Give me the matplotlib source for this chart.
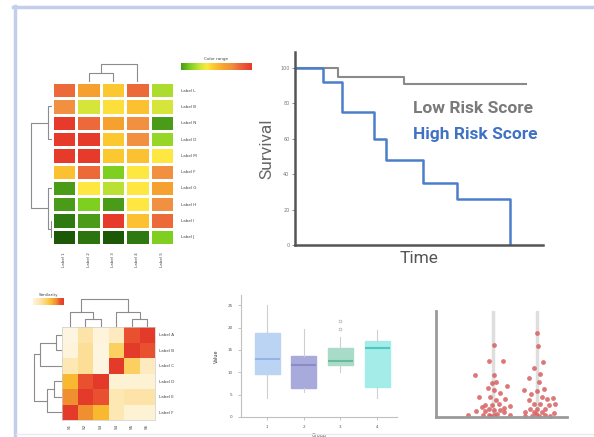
import numpy as np
import matplotlib.pyplot as plt
from matplotlib.colors import LinearSegmentedColormap
from matplotlib.lines import Line2D

# ---- data ----
heat_rows = ["Label L", "Label B", "Label N", "Label D", "Label M",
             "Label F", "Label G", "Label H", "Label I", "Label J"]
heat_cols = ["Label 1", "Label 2", "Label 3", "Label 4", "Label 5"]
heat_vals = [
    [0.86, 0.70, 0.58, 0.86, 0.38],
    [0.78, 0.44, 0.52, 0.60, 0.44],
    [1.00, 0.86, 0.70, 0.78, 0.22],
    [1.00, 1.00, 0.58, 0.78, 0.35],
    [1.00, 1.00, 0.58, 0.60, 0.50],
    [0.60, 0.86, 0.32, 0.50, 0.78],
    [0.22, 0.50, 0.40, 0.50, 0.70],
    [0.22, 0.32, 0.22, 0.50, 0.78],
    [0.12, 0.22, 1.00, 0.60, 0.86],
    [0.00, 0.10, 0.00, 0.12, 0.32],
]
heat_col_merges = [(1, 2, 0.47), (5, 3, 1.0)]
heat_row_merges = [(8, 9, 0.05), (1, 3, 0.17), (6, 10, 0.17), (11, 12, 1.0)]

low_time = [0, 17.4, 44, 93]
low_surv = [100, 95, 91, 91]
high_time = [0, 11.2, 18.8, 31.9, 36.7, 51.5, 65.3, 86.7]
high_surv = [100, 92, 75, 60, 48, 35, 26, 0]
km_ticks = [0, 20, 40, 60, 80, 100]

corr_rows = ["Label A", "Label B", "Label C", "Label D", "Label E", "Label F"]
corr_cols = ["S1", "S2", "S3", "S4", "S5", "S6"]
corr_vals = [
    [0.00, 0.25, 0.02, 0.15, 0.88, 1.00],
    [0.02, 0.30, 0.00, 0.45, 1.00, 0.88],
    [0.20, 0.30, 0.00, 1.00, 0.45, 0.15],
    [0.60, 0.88, 1.00, 0.05, 0.05, 0.05],
    [0.75, 1.00, 0.88, 0.20, 0.25, 0.25],
    [1.00, 0.75, 0.60, 0.20, 0.05, 0.05],
]
corr_col_merges = [(1, 2, 0.3), (0, 6, 0.53), (4, 5, 0.3), (3, 8, 0.53), (7, 9, 1.0)]
corr_row_merges = [(0, 1, 0.2), (6, 2, 0.8), (3, 4, 0.3), (8, 5, 0.55), (7, 9, 1.0)]

box_groups = ["1", "2", "3", "4"]
box_med = [13.0, 11.6, 12.6, 15.5]
box_q1 = [9.7, 6.6, 11.6, 6.8]
box_q3 = [18.8, 13.7, 15.5, 17.0]
box_lo = [4.2, 5.7, 10.1, 4.3]
box_hi = [25.0, 19.7, 17.8, 19.5]
box_fliers = [[], [], [19.8, 21.5], []]
box_face = ["#bcd4f4", "#a8aadc", "#a8dcc8", "#a4ece8"]
box_medc = ["#94b4e4", "#8a8cc8", "#6cb8a0", "#4cc8c0"]
box_ticks = [0, 5, 10, 15, 20, 25]

strip_a_dx = [0.015, -0.099, 0.22, -0.417, 0.015, -0.023, 0.076, 0.319, -0.121, 0.167,
              0.015, -0.311, -0.061, 0.281, 0.076, -0.175, -0.023, 0.129, 0.395, -0.25,
              -0.099, 0.243, -0.38, -0.175, 0.015, 0.167, -0.554, -0.213, -0.099, 0.015,
              0.091, 0.395, -0.061, 0.243]
strip_a_y = [67.6, 52.8, 52.5, 39.3, 39.3, 32.1, 33.0, 29.0, 27.4, 22.6,
             25.2, 18.9, 18.9, 17.3, 15.7, 11.7, 11.0, 12.0, 10.4, 9.4,
             7.9, 8.5, 5.4, 5.4, 6.3, 6.3, 1.6, 1.6, 1.6, 1.6,
             3.1, 1.6, 0.5, 4.7]
strip_b_dx = [0.0, 0.015, 0.137, -0.076, 0.061, -0.19, 0.038, -0.304, 0.152, -0.137,
              0.0, 0.114, 0.228, -0.19, 0.364, -0.061, 0.076, 0.266, 0.417, -0.152,
              0.0, 0.19, -0.266, -0.076, 0.114, 0.38, -0.266, -0.114, 0.038, 0.19,
              0.304, -0.015]
strip_b_y = [79.6, 66.7, 51.9, 46.6, 40.9, 36.8, 33.0, 25.2, 26.8, 22.1,
             24.2, 18.9, 17.3, 16.4, 18.2, 12.6, 12.0, 11.0, 12.6, 7.9,
             7.9, 7.9, 4.7, 4.7, 4.7, 3.8, 0.7, 0.7, 0.7, 1.6,
             0.7, 3.1]

W, H = 594, 437
fig = plt.figure(figsize=(W / 100, H / 100), dpi=100)


def px_axes(x0, y0, x1, y1):
    return fig.add_axes([x0 / W, 1 - y1 / H, (x1 - x0) / W, (y1 - y0) / H])


def dendro(ax, merges, n, side, color="#8c8c8c"):
    pos = [i + 0.5 for i in range(n)]
    hgt = [0.0] * n
    for a, b, h in merges:
        xs = [pos[a], pos[a], pos[b], pos[b]]
        ys = [hgt[a], h, h, hgt[b]]
        if side == "top":
            ax.plot(xs, ys, color=color, lw=0.8)
        else:
            ax.plot(ys, xs, color=color, lw=0.8)
        pos.append((pos[a] + pos[b]) / 2)
        hgt.append(h)
    if side == "top":
        ax.set_xlim(0, n)
        ax.set_ylim(0, 1.05)
    else:
        ax.set_xlim(1.05, 0)
        ax.set_ylim(n, 0)
    ax.axis("off")


tiny = dict(fontsize=3, color="#444444")

# frame
fig.add_artist(Line2D([14.5 / W, 14.5 / W], [0, 1 - 6 / H], color="#c3cfea", lw=2.5))
fig.add_artist(Line2D([13 / W, 1], [1 - 7 / H, 1 - 7 / H], color="#c3cfea", lw=2.5))
fig.add_artist(Line2D([16 / W, 1], [1 - 434 / H, 1 - 434 / H], color="#e6eaf3", lw=1))

# ---- heatmap 1 ----
cmap1 = LinearSegmentedColormap.from_list("gyr", [
    (0.0, "#1c5806"), (0.12, "#2e7a10"), (0.22, "#4a9c18"), (0.32, "#80d020"),
    (0.42, "#c8e438"), (0.5, "#fde840"), (0.58, "#fcc830"), (0.7, "#f6a030"),
    (0.78, "#f09040"), (0.86, "#ec6a3a"), (1.0, "#e63a2a")])
ax = px_axes(52, 82, 174, 245)
ax.pcolormesh(np.array(heat_vals), cmap=cmap1, vmin=0, vmax=1,
              edgecolors="white", linewidth=1)
ax.set_xlim(0, len(heat_cols))
ax.set_ylim(len(heat_rows), 0)
ax.yaxis.tick_right()
ax.set_yticks(np.arange(len(heat_rows)) + 0.5)
ax.set_yticklabels(heat_rows, **tiny)
ax.set_xticks(np.arange(len(heat_cols)) + 0.5)
ax.set_xticklabels(heat_cols, rotation=90, **tiny)
ax.tick_params(length=0, pad=5)
for s in ax.spines.values():
    s.set_visible(False)

dendro(px_axes(52, 63, 174, 82), heat_col_merges, len(heat_cols), "top")
dendro(px_axes(30, 82, 52, 245), heat_row_merges, len(heat_rows), "left")

cax = px_axes(181, 63, 252, 70)
cax.imshow(np.linspace(0.22, 1, 100)[None, :], cmap=cmap1, vmin=0, vmax=1, aspect="auto")
cax.set_xticks([])
cax.set_yticks([])
for s in cax.spines.values():
    s.set_visible(False)
cax.set_title("Color range", fontsize=3, color="#444444", pad=2)

# ---- survival curve ----
ax = px_axes(295, 52, 543, 245)
ax.step(low_time, low_surv, where="post", color="#8a8a8a", lw=1.5)
ax.step(high_time, high_surv, where="post", color="#4a7ecb", lw=1.8)
ax.set_xlim(0, 100)
ax.set_ylim(0, 109)
ax.set_yticks(km_ticks)
ax.set_yticklabels([str(t) for t in km_ticks], fontsize=3.5, color="#777777")
ax.set_xticks([])
ax.tick_params(axis="y", length=2, width=0.6, color="#777777", pad=2)
for s in ["top", "right"]:
    ax.spines[s].set_visible(False)
for s in ["left", "bottom"]:
    ax.spines[s].set_color("#555555")
    ax.spines[s].set_linewidth(1.8)
ax.set_ylabel("Survival", fontsize=12.5, color="#666666", family="Roboto", labelpad=4)
ax.set_xlabel("Time", fontsize=12.5, color="#555555", family="Roboto", labelpad=4)
ax.text(0.475, 0.705, "Low Risk Score", transform=ax.transAxes, fontsize=12.5,
        color="#7a7a7a", family="Roboto", weight="bold", va="center")
ax.text(0.475, 0.575, "High Risk Score", transform=ax.transAxes, fontsize=12.5,
        color="#3f72c4", family="Roboto", weight="bold", va="center")

# ---- correlation heatmap ----
cmap2 = LinearSegmentedColormap.from_list("ylr", [
    (0.0, "#fef5e0"), (0.25, "#fde3a8"), (0.45, "#fcd060"), (0.6, "#f8b830"),
    (0.75, "#f09030"), (0.88, "#e85030"), (1.0, "#e43a2a")])
ax = px_axes(62, 327, 155, 420)
ax.pcolormesh(np.array(corr_vals), cmap=cmap2, vmin=0, vmax=1)
ax.set_xlim(0, len(corr_cols))
ax.set_ylim(len(corr_rows), 0)
ax.yaxis.tick_right()
ax.set_yticks(np.arange(len(corr_rows)) + 0.5)
ax.set_yticklabels(corr_rows, **tiny)
ax.set_xticks(np.arange(len(corr_cols)) + 0.5)
ax.set_xticklabels(corr_cols, rotation=90, **tiny)
ax.tick_params(length=0, pad=3)
for s in ax.spines.values():
    s.set_color("#cccccc")
    s.set_linewidth(0.5)

dendro(px_axes(62, 298, 155, 327), corr_col_merges, len(corr_cols), "top")
dendro(px_axes(33, 327, 62, 420), corr_row_merges, len(corr_rows), "left")

cax = px_axes(33, 298, 64, 305)
cax.imshow(np.linspace(0, 1, 100)[None, :], cmap=cmap2, vmin=0, vmax=1, aspect="auto")
cax.set_xticks([])
cax.set_yticks([])
for s in cax.spines.values():
    s.set_visible(False)
cax.set_title("Similarity", fontsize=3, color="#444444", pad=1.5)

# ---- box plot ----
ax = px_axes(241, 295, 397, 417)
stats = []
for i in range(len(box_groups)):
    stats.append(dict(med=box_med[i], q1=box_q1[i], q3=box_q3[i],
                      whislo=box_lo[i], whishi=box_hi[i], fliers=box_fliers[i]))
bp = ax.bxp(stats, positions=range(1, len(box_groups) + 1), widths=0.68,
            patch_artist=True, showcaps=False,
            whiskerprops=dict(color="#cfcfcf", lw=0.8),
            flierprops=dict(marker="o", markersize=2, markerfacecolor="none",
                            markeredgecolor="#b0b0b0", markeredgewidth=0.5))
for i, b in enumerate(bp["boxes"]):
    b.set_facecolor(box_face[i])
    b.set_edgecolor(box_face[i])
for i, m in enumerate(bp["medians"]):
    m.set_color(box_medc[i])
    m.set_linewidth(1.5)
ax.set_xlim(0.29, 4.54)
ax.set_ylim(0, 27.3)
ax.set_yticks(box_ticks)
ax.set_yticklabels([str(t) for t in box_ticks], fontsize=3, color="#555555")
ax.set_xticks(range(1, len(box_groups) + 1))
ax.set_xticklabels(box_groups, fontsize=3, color="#555555")
ax.tick_params(length=2, width=0.5, color="#aaaaaa", pad=4)
for s in ["top", "right"]:
    ax.spines[s].set_visible(False)
for s in ["left", "bottom"]:
    ax.spines[s].set_color("#c0c0c0")
    ax.spines[s].set_linewidth(0.8)
ax.set_ylabel("Value", fontsize=3.5, color="#333333", labelpad=6)
ax.set_xlabel("Group", fontsize=3.5, color="#555555", labelpad=3)

# ---- strip plot ----
ax = px_axes(436, 311, 567, 417)
ax.axvline(1, color="#dedede", lw=2.5, zorder=0)
ax.axvline(2, color="#dedede", lw=2.5, zorder=0)
ax.scatter(1 + np.array(strip_a_dx), strip_a_y, s=12, color="#d86060", alpha=0.85,
           linewidths=0, clip_on=False)
ax.scatter(2 + np.array(strip_b_dx), strip_b_y, s=12, color="#d86060", alpha=0.85,
           linewidths=0, clip_on=False)
ax.set_xlim(-0.292, 2.684)
ax.set_ylim(0, 100)
ax.set_xticks([])
ax.set_yticks([])
for s in ["top", "right"]:
    ax.spines[s].set_visible(False)
for s in ["left", "bottom"]:
    ax.spines[s].set_color("#9a9a9a")
    ax.spines[s].set_linewidth(2)

fig.savefig("out.png", dpi=100)
